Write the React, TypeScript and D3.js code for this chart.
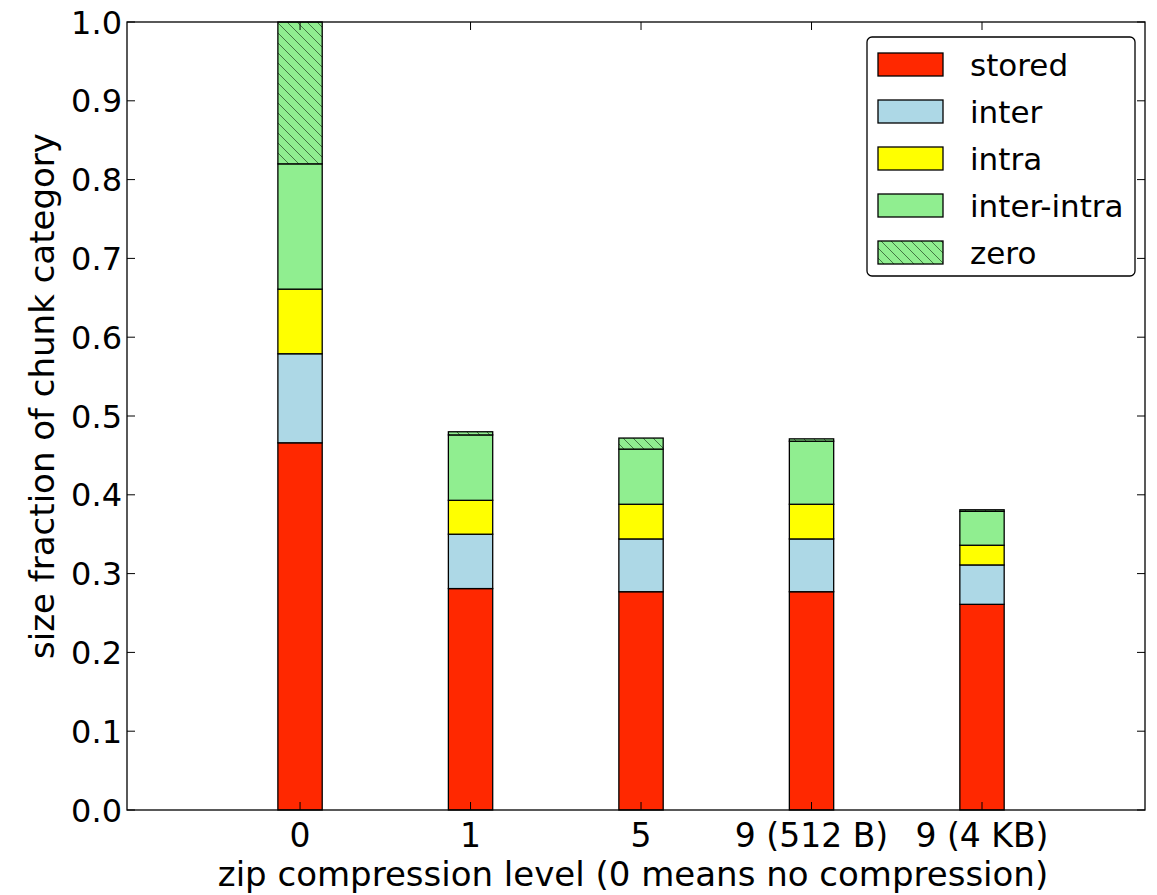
import { useEffect, useRef } from 'react'
import * as d3 from 'd3'

const levels = ['0', '1', '5', '9 (512 B)', '9 (4 KB)']
const categories = ['stored', 'inter', 'intra', 'inter-intra', 'zero']
const stored = [0.466, 0.281, 0.277, 0.277, 0.261]
const inter = [0.113, 0.069, 0.067, 0.067, 0.050]
const intra = [0.082, 0.043, 0.044, 0.044, 0.025]
const interIntra = [0.159, 0.083, 0.070, 0.080, 0.043]
const zero = [0.180, 0.004, 0.014, 0.003, 0.002]
const yTicks = [0, 0.1, 0.2, 0.3, 0.4, 0.5, 0.6, 0.7, 0.8, 0.9, 1.0]

const COLORS: Record<string, string> = {
  stored: '#ff2800',
  inter: '#add8e6',
  intra: '#ffff00',
  'inter-intra': '#90ee90',
  zero: 'url(#hatch)'
}

export default function App() {
  const svgRef = useRef<SVGSVGElement>(null)

  useEffect(() => {
    if (!svgRef.current) return
    const svg = d3.select(svgRef.current)
    svg.selectAll('*').remove()

    const W = 1157
    const H = 895
    const m = { top: 22, right: 12, bottom: 85, left: 127 }
    const innerW = W - m.left - m.right
    const innerH = H - m.top - m.bottom
    const font = 'DejaVu Sans, sans-serif'

    const defs = svg.append('defs')
    const pat = defs.append('pattern')
      .attr('id', 'hatch').attr('patternUnits', 'userSpaceOnUse')
      .attr('width', 10).attr('height', 10)
    pat.append('rect').attr('width', 10).attr('height', 10).attr('fill', '#90ee90')
    pat.append('path').attr('d', 'M-5,-5 L15,15 M-5,5 L5,15 M5,-5 L15,5')
      .attr('stroke', '#2f5a2f').attr('stroke-width', 1).attr('stroke-opacity', 0.8)

    const g = svg.append('g').attr('transform', `translate(${m.left},${m.top})`)

    const x = d3.scaleLinear().domain([-1.015, 4.956]).range([0, innerW])
    const y = d3.scaleLinear().domain([0, 1]).range([innerH, 0])
    const barW = x(0.26) - x(0)

    const rows = levels.map((lv, i) => ({
      level: i,
      stored: stored[i],
      inter: inter[i],
      intra: intra[i],
      'inter-intra': interIntra[i],
      zero: zero[i]
    }))
    const series = d3.stack<any>().keys(categories)(rows)

    series.forEach(s => {
      g.append('g').selectAll('rect').data(s).join('rect')
        .attr('x', (d: any) => x(d.data.level) - barW / 2)
        .attr('width', barW)
        .attr('y', (d: any) => y(d[1]))
        .attr('height', (d: any) => y(d[0]) - y(d[1]))
        .attr('fill', COLORS[s.key])
        .attr('stroke', '#000')
        .attr('stroke-width', 1.3)
    })

    // frame
    g.append('rect').attr('width', innerW).attr('height', innerH)
      .attr('fill', 'none').attr('stroke', '#000').attr('stroke-width', 1.3)

    const tickLen = 8
    yTicks.forEach(t => {
      g.append('line').attr('x1', 0).attr('x2', tickLen).attr('y1', y(t)).attr('y2', y(t))
        .attr('stroke', '#000')
      g.append('line').attr('x1', innerW).attr('x2', innerW - tickLen).attr('y1', y(t)).attr('y2', y(t))
        .attr('stroke', '#000')
      g.append('text').attr('x', -5).attr('y', y(t)).attr('dy', '0.36em')
        .attr('text-anchor', 'end').attr('font-family', font).attr('font-size', 32)
        .attr('fill', '#000').text(d3.format('.1f')(t))
    })

    levels.forEach((lv, i) => {
      g.append('line').attr('x1', x(i)).attr('x2', x(i)).attr('y1', innerH).attr('y2', innerH - tickLen)
        .attr('stroke', '#000')
      g.append('line').attr('x1', x(i)).attr('x2', x(i)).attr('y1', 0).attr('y2', tickLen)
        .attr('stroke', '#000')
      g.append('text').attr('x', x(i)).attr('y', innerH + 37)
        .attr('text-anchor', 'middle').attr('font-family', font).attr('font-size', 33)
        .attr('fill', '#000').text(lv)
    })

    svg.append('text').attr('x', m.left + innerW / 2 - 3).attr('y', 886)
      .attr('text-anchor', 'middle').attr('font-family', font).attr('font-size', 34)
      .attr('fill', '#000').text('zip compression level (0 means no compression)')

    svg.append('text').attr('transform', `translate(54,${m.top + innerH / 2 - 20}) rotate(-90)`)
      .attr('text-anchor', 'middle').attr('font-family', font).attr('font-size', 34)
      .attr('fill', '#000').text('size fraction of chunk category')

    // legend
    const lg = svg.append('g').attr('transform', 'translate(867,37)')
    lg.append('rect').attr('width', 268).attr('height', 239).attr('rx', 5)
      .attr('fill', '#fff').attr('stroke', '#000').attr('stroke-width', 1.3)
    categories.forEach((c, i) => {
      const cy = 27.5 + i * 47
      lg.append('rect').attr('x', 11).attr('y', cy - 11.5).attr('width', 65).attr('height', 23)
        .attr('fill', COLORS[c]).attr('stroke', '#000').attr('stroke-width', 1.3)
      lg.append('text').attr('x', 103).attr('y', cy).attr('dy', '0.36em')
        .attr('font-family', font).attr('font-size', 31).attr('fill', '#000').text(c)
    })
  }, [])

  return (
    <div style={{ position: 'absolute', left: 0, top: 0 }}>
      <svg ref={svgRef} width={1157} height={895} />
    </div>
  )
}
